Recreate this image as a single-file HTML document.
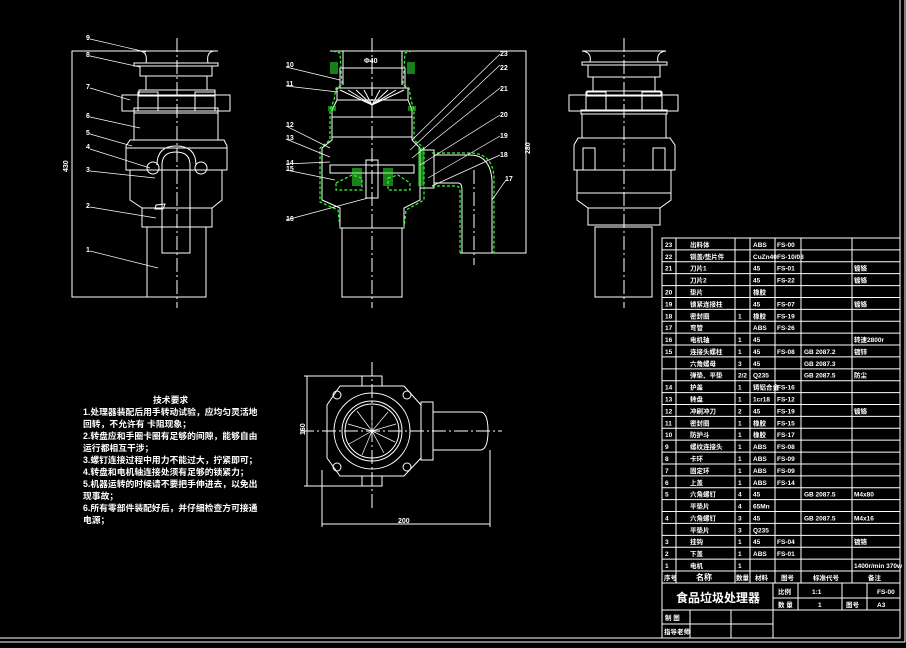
<!DOCTYPE html>
<html><head><meta charset="utf-8"><style>
html,body{margin:0;padding:0;background:#000;width:906px;height:648px;overflow:hidden}
svg{display:block}
text{font-family:"Liberation Sans","Noto Sans CJK SC",sans-serif;fill:#fff;font-weight:bold}
</style></head><body>
<svg width="906" height="648" viewBox="0 0 906 648" xmlns="http://www.w3.org/2000/svg">
<rect width="906" height="648" fill="#000"/>
<g stroke="#fff" stroke-width="1" fill="none">
<line x1="900" y1="0" x2="900" y2="638"/><line x1="905" y1="0" x2="905" y2="642"/>
<line x1="0" y1="638" x2="900" y2="638"/><line x1="0" y1="642" x2="905" y2="642"/>

<polyline points="218,51 72,51 72,297 205,297"/>
<line x1="177" y1="38" x2="177" y2="308" stroke-dasharray="14,3,2,3"/>
<path d="M140,51 Q148,52 146,63 M214,51 Q206,52 208,63"/>
<rect x="134" y="63" width="84" height="3"/>
<rect x="140" y="66" width="72" height="10"/>
<rect x="146" y="76" width="61" height="14"/>
<rect x="139" y="90" width="76" height="6"/>
<rect x="122" y="95" width="108" height="16"/>
<rect x="138" y="92" width="20" height="19"/><rect x="195" y="92" width="20" height="19"/>
<rect x="134" y="108" width="84" height="5"/>
<rect x="134" y="113" width="84" height="27"/>
<path d="M130,140 L224,140 L227,146 L227,170 L126,170 L126,146 Z"/>
<line x1="126" y1="148" x2="227" y2="148"/>
<path d="M130,170 L130,200 L142,208 L212,208 L222,200 L222,170"/>
<rect x="142" y="208" width="70" height="19"/>
<rect x="147" y="227" width="59" height="70"/>
<path d="M162,253 L162,165 Q162,152 176,152 Q190,152 190,165 L190,253 Z"/>
<path d="M157,165 Q157,146 176,146 Q196,146 196,165"/>
<circle cx="153" cy="168" r="6"/><circle cx="201" cy="168" r="6"/>
<path d="M156,205 L165,204 L163,209 L155,209 Z"/>

<polyline points="330,51 526,51 526,253 460,253"/>
<line x1="372" y1="38" x2="372" y2="308" stroke-dasharray="14,3,2,3"/>
<line x1="474" y1="170" x2="474" y2="265" stroke-dasharray="14,3,2,3"/>
<path d="M330,51 L343,51 L343,85 M414,51 L402,51 L402,85"/>
<rect x="340" y="68" width="65" height="20"/>
<rect x="337" y="88" width="71" height="12"/>
<path d="M337,100 L332,110 L332,140 L322,148 L322,200 L340,208 L340,228 L404,228 L404,208 L420,200 L420,148 L412,140 L412,110 L408,100"/>
<line x1="332" y1="117" x2="412" y2="117"/><line x1="332" y1="137" x2="412" y2="137"/>
<rect x="330" y="165" width="84" height="8"/>
<rect x="342" y="228" width="60" height="69"/>
<path d="M340,90 L372,105 L404,90 M348,90 L372,105 M396,90 L372,105 M356,90 L372,105 M388,90 L372,105 M364,90 L372,105 M380,90 L372,105"/>
<rect x="366" y="160" width="12" height="38"/>
<rect x="420" y="150" width="14" height="38"/>
<path d="M434,155 L470,155 Q490,155 492,180 L492,253 M434,183 L458,183 Q462,183 462,190 L462,253"/>
</g>
<g stroke="#3f3" stroke-width="1.2" fill="none" stroke-dasharray="3,2">
<path d="M333,51 L340,53 L342,85 L336,88 L334,100 L330,110 L330,140 L320,148 L320,202 L338,210 L340,228"/>
<path d="M412,51 L405,53 L403,85 L409,88 L411,100 L414,110 L414,140 L424,148 L424,200 L406,210 L404,228"/>
<path d="M432,153 L470,153 Q494,153 494,180 L494,253 M432,186 L456,186 Q460,186 460,192 L460,253"/>
<path d="M336,183 L352,175 L362,178 L362,190 L336,190 Z M388,178 L398,175 L410,183 L410,190 L388,190 Z"/>
</g>
<g fill="#3f3" opacity="0.5">
<rect x="330" y="62" width="8" height="12"/><rect x="407" y="62" width="8" height="12"/>
<rect x="328" y="106" width="8" height="5"/><rect x="408" y="106" width="8" height="5"/>
<rect x="352" y="168" width="10" height="18"/><rect x="383" y="168" width="10" height="18"/>
<rect x="418" y="148" width="6" height="38"/>
</g>

<g stroke="#fff" stroke-width="1" fill="none">
<line x1="624" y1="38" x2="624" y2="308" stroke-dasharray="14,3,2,3"/>
<path d="M582,51 Q592,52 590,62 M666,51 Q656,52 658,62 M582,51 L666,51"/>
<rect x="582" y="62" width="85" height="3"/>
<rect x="588" y="65" width="72" height="12"/>
<rect x="593" y="77" width="62" height="14"/>
<rect x="587" y="91" width="74" height="5"/>
<rect x="569" y="95" width="109" height="16"/>
<rect x="586" y="92" width="20" height="19"/><rect x="642" y="92" width="20" height="19"/>
<rect x="581" y="110" width="86" height="4"/>
<rect x="582" y="114" width="84" height="24"/>
<path d="M578,138 L670,138 L675,145 L675,170 L574,170 L574,145 Z"/>
<rect x="583" y="148" width="12" height="22"/><rect x="653" y="148" width="12" height="22"/>
<path d="M577,170 L577,200 L588,208 L660,208 L671,200 L671,170"/>
<line x1="577" y1="193" x2="671" y2="193"/>
<rect x="588" y="208" width="72" height="17"/>
<rect x="595" y="227" width="57" height="70"/>

<line x1="372" y1="362" x2="372" y2="510" stroke-dasharray="14,3,2,3"/>
<line x1="300" y1="431" x2="502" y2="431" stroke-dasharray="14,3,2,3"/>
<path d="M340,386 L404,386 L421,405 L421,458 L404,476 L340,476 L327,458 L327,405 Z"/>
<circle cx="372" cy="431" r="38"/><circle cx="372" cy="431" r="30"/><circle cx="372" cy="431" r="27"/>
<circle cx="337" cy="395" r="4"/><circle cx="407" cy="395" r="4"/><circle cx="337" cy="467" r="4"/><circle cx="407" cy="467" r="4"/>
<rect x="362" y="376" width="20" height="10"/><rect x="362" y="476" width="20" height="10"/>
<rect x="421" y="402" width="12" height="58"/>
<path d="M433,412 L480,412 Q488,412 488,431 Q488,450 480,450 L433,450"/>
<path d="M307,376 L307,486 M304,376 L362,376 M304,486 L362,486 M322,524 L490,524 M322,470 L322,527 M490,450 L490,527"/>
<g stroke-width="0.7">
<line x1="372" y1="431" x2="372" y2="406"/><line x1="372" y1="431" x2="388" y2="412"/><line x1="372" y1="431" x2="396" y2="424"/><line x1="372" y1="431" x2="395" y2="442"/><line x1="372" y1="431" x2="384" y2="453"/><line x1="372" y1="431" x2="362" y2="455"/><line x1="372" y1="431" x2="349" y2="444"/><line x1="372" y1="431" x2="348" y2="424"/><line x1="372" y1="431" x2="357" y2="411"/>
</g>

<g stroke-width="0.7">
<path d="M90,39 L146,52 M90,56 L140,67 M90,88 L130,100 M90,117 L140,128 M90,134 L132,146 M90,149 L150,168 M90,171 L155,178 M90,207 L156,218 M90,251 L158,268"/>
<path d="M286,67 L340,80 M286,86 L338,92 M286,126 L330,148 M286,139 L330,157 M286,164 L330,162 M286,170 L335,180 M286,220 L368,198"/>
<path d="M500,54 L412,140 M500,65 L410,150 M500,88 L412,158 M500,115 L420,165 M500,136 L428,178 M500,155 L432,186 M506,180 L492,200"/>
</g>
</g>

<g font-size="7">
<text x="86" y="40">9</text><text x="86" y="57">8</text><text x="86" y="89">7</text><text x="86" y="118">6</text><text x="86" y="135">5</text><text x="86" y="149">4</text><text x="86" y="172">3</text><text x="86" y="208">2</text><text x="86" y="252">1</text>
<text x="286" y="67">10</text><text x="286" y="86">11</text><text x="286" y="127">12</text><text x="286" y="140">13</text><text x="286" y="165">14</text><text x="286" y="171">15</text><text x="286" y="221">16</text>
<text x="500" y="56">23</text><text x="500" y="70">22</text><text x="500" y="91">21</text><text x="500" y="117">20</text><text x="500" y="138">19</text><text x="500" y="157">18</text><text x="505" y="181">17</text>
<text x="364" y="63">Φ40</text>
<text x="68" y="172" transform="rotate(-90 68 172)">430</text>
<text x="530" y="154" transform="rotate(-90 530 154)">280</text>
<text x="305" y="435" transform="rotate(-90 305 435)">160</text>
<text x="398" y="523">200</text>
</g>

<g font-size="8.8">
<text x="153" y="403">技术要求</text>
<text x="83" y="415">1.处理器装配后用手转动试验，应均匀灵活地</text>
<text x="83" y="427">回转，不允许有  卡阻现象；</text>
<text x="83" y="439">2.转盘应和手圈卡圈有足够的间隙，能够自由</text>
<text x="83" y="451">运行都相互干涉；</text>
<text x="83" y="463">3.螺钉连接过程中用力不能过大，拧紧即可；</text>
<text x="83" y="475">4.转盘和电机轴连接处须有足够的锁紧力；</text>
<text x="83" y="487">5.机器运转的时候请不要把手伸进去，以免出</text>
<text x="83" y="499">现事故；</text>
<text x="83" y="511">6.所有零部件装配好后，并仔细检查方可接通</text>
<text x="83" y="523">电源；</text>
</g>

<g stroke="#fff" stroke-width="1" fill="none">
<rect x="662" y="238" width="238" height="400"/>
<line x1="676" y1="238" x2="676" y2="583"/>
<line x1="735" y1="238" x2="735" y2="583"/>
<line x1="750" y1="238" x2="750" y2="583"/>
<line x1="775" y1="238" x2="775" y2="583"/>
<line x1="801" y1="238" x2="801" y2="583"/>
<line x1="852" y1="238" x2="852" y2="583"/>
<line x1="662" y1="583" x2="900" y2="583"/>
<line x1="773" y1="583" x2="773" y2="638"/>
<line x1="773" y1="598" x2="900" y2="598"/>
<line x1="662" y1="610" x2="900" y2="610"/>
<line x1="798" y1="583" x2="798" y2="610"/>
<line x1="842" y1="583" x2="842" y2="610"/>
<line x1="867" y1="583" x2="867" y2="610"/>
<line x1="662" y1="624" x2="773" y2="624"/>
<line x1="690" y1="610" x2="690" y2="638"/>
<line x1="731" y1="610" x2="731" y2="638"/>
</g>
<g stroke="#fff" stroke-width="1" id="rows"></g>
<g font-size="6.5" id="cells"></g>
<g font-size="6.5">
<text x="664" y="580">序号</text><text x="696" y="580" font-size="8">名称</text><text x="736" y="580">数量</text><text x="755" y="580">材料</text><text x="781" y="580">图号</text><text x="813" y="580">标准代号</text><text x="868" y="580">备注</text>
<text x="676" y="602" font-size="12">食品垃圾处理器</text>
<text x="778" y="594">比例</text><text x="812" y="594">1:1</text><text x="877" y="594">FS-00</text>
<text x="778" y="607">数 量</text><text x="818" y="607">1</text><text x="846" y="607">图号</text><text x="877" y="607">A3</text>
<text x="665" y="620">制 图</text><text x="664" y="634">指导老师</text>
</g>
<script>
var rows=[["23","出料体","","ABS","FS-00","",""],["22","铜盖/垫片件","","CuZn40","FS-10/08","",""],["21","刀片1","","45","FS-01","","镀铬"],["","刀片2","","45","FS-22","","镀铬"],["20","垫片","","橡胶","","",""],["19","锁紧连接柱","","45","FS-07","","镀铬"],["18","密封圈","1","橡胶","FS-19","",""],["17","弯管","","ABS","FS-26","",""],["16","电机轴","1","45","","","转速2800r"],["15","连接头螺柱","1","45","FS-08","GB 2087.2","镀锌"],["","六角螺母","3","45","","GB 2087.3",""],["","弹垫、平垫","2/2","Q235","","GB 2087.5","防尘"],["14","护盖","1","铸铝合金","FS-16","",""],["13","转盘","1","1cr18","FS-12","",""],["12","冲刷冲刀","2","45","FS-19","","镀铬"],["11","密封圈","1","橡胶","FS-15","",""],["10","防护斗","1","橡胶","FS-17","",""],["9","螺纹连接头","1","ABS","FS-08","",""],["8","卡环","1","ABS","FS-09","",""],["7","固定环","1","ABS","FS-09","",""],["6","上盖","1","ABS","FS-14","",""],["5","六角螺钉","4","45","","GB 2087.5","M4x80"],["","平垫片","4","65Mn","","",""],["4","六角螺钉","3","45","","GB 2087.5","M4x16"],["","平垫片","3","Q235","","",""],["3","挂钩","1","45","FS-04","","镀铬"],["2","下盖","1","ABS","FS-01","",""],["1","电机","1","","","","1400r/min 370w"]];
var xs=[665,690,738,753,777,804,854];var h=(571-238)/28;var ns="http://www.w3.org/2000/svg";
var R=document.getElementById("rows"),C=document.getElementById("cells");
for(var i=0;i<=28;i++){var y=238+i*h;var l=document.createElementNS(ns,"line");l.setAttribute("x1",662);l.setAttribute("x2",900);l.setAttribute("y1",y);l.setAttribute("y2",y);R.appendChild(l);
if(i<28){for(var j=0;j<7;j++){if(!rows[i][j])continue;var t=document.createElementNS(ns,"text");t.setAttribute("x",xs[j]);t.setAttribute("y",y+h-3);t.textContent=rows[i][j];C.appendChild(t);}}}
</script>
</svg>
</body></html>
